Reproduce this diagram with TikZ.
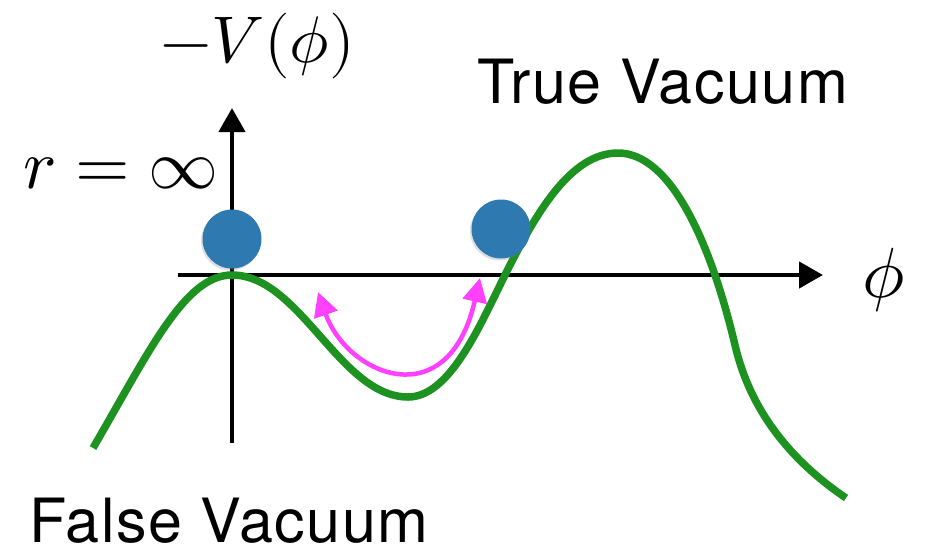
\documentclass[tikz,border=0pt]{standalone}
\usepackage{fontspec}
\setmainfont{TeX Gyre Heros}
\usepackage{unicode-math}
\setmathfont{Latin Modern Math}
\usetikzlibrary{arrows.meta,shadows}
\definecolor{curvegreen}{RGB}{30,146,32}
\definecolor{ballblue}{RGB}{46,122,176}
\definecolor{arrowpink}{RGB}{255,64,255}
\tikzset{
  axis/.style={line width=4.5pt,-{Triangle[length=24pt,width=26pt]}},
  pot/.style={curvegreen,line width=7.5pt},
  ball/.style={circle,fill=ballblue,minimum size=59pt,inner sep=0pt,
    drop shadow={opacity=0.25,shadow xshift=-1.5pt,shadow yshift=-2pt}},
  osc/.style={arrowpink,line width=4.5pt,
    {Triangle[length=24pt,width=24pt]}-{Triangle[length=24pt,width=24pt]}},
  lbl/.style={inner sep=0pt,anchor=base west,
    font=\fontsize{61}{72}\selectfont\addfontfeatures{LetterSpace=2.5}},
  mlbl/.style={inner sep=0pt,anchor=base west,font=\fontsize{66}{78}\selectfont},
}
\begin{document}
\begin{tikzpicture}[x=1pt,y=-1pt]
\useasboundingbox[fill=white] (0,0) rectangle (939,550);
% axes
\coordinate (xs) at (178,275);
\coordinate (xe) at (823,275);
\coordinate (ys) at (232,443);
\coordinate (ye) at (232,108);
\draw[axis] (xs) -- (xe);
\draw[axis] (ys) -- (ye);
% potential
\draw[pot] (93,448) .. controls (150,350) and (185,275) .. (232,275)
  .. controls (300,275) and (340,397) .. (408,397)
  .. controls (450,397) and (480,325) .. (505,275)
  .. controls (535,215) and (570,153) .. (618,153)
  .. controls (670,153) and (710,240) .. (735,345)
  .. controls (750,410) and (790,460) .. (846,498);
% oscillation arrow
\coordinate (oa) at (318,292);
\coordinate (ob) at (480,278);
\draw[osc] (oa) .. controls (347,375) and (448,418) .. (ob);
% balls
\node[ball] (b1) at (232,239) {};
\node[ball] (b2) at (501,229) {};
% labels
\node[mlbl] (vl) at (160,62) {$-V(\phi)$};
\node[mlbl,font=\fontsize{70}{80}\selectfont] (rl) at (23,188) {$r=\infty$};
\node[mlbl,font=\fontsize{71}{80}\selectfont] (pl) at (862,297) {$\phi$};
\node[lbl] (tv) at (477,103) {True Vacuum};
\node[lbl] (fv) at (29,542) {False Vacuum};
\end{tikzpicture}
\end{document}
